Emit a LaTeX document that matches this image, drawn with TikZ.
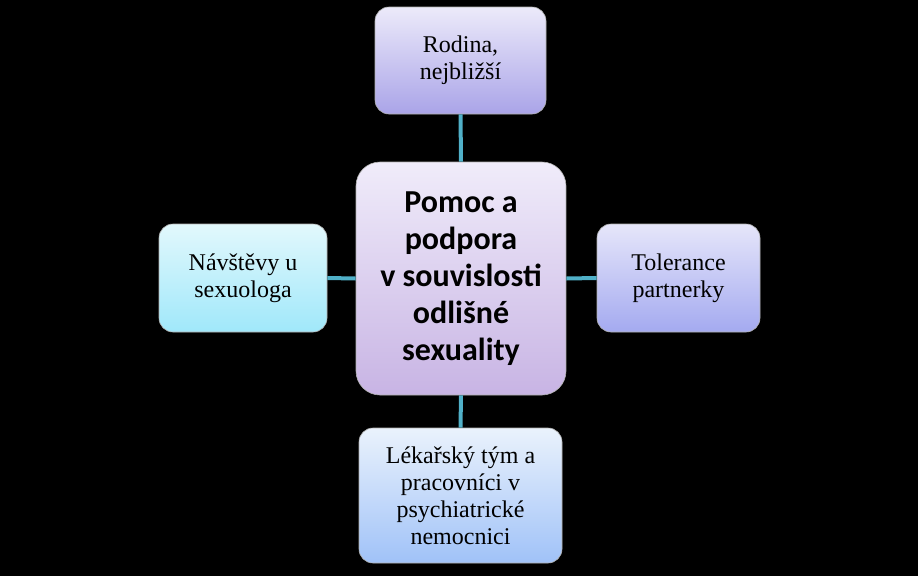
\documentclass[tikz,border=0pt]{standalone}
\usepackage{fontspec}
\setmainfont{Liberation Serif}
\newfontfamily\centerfont{Carlito}
\begin{document}
\begin{tikzpicture}[x=1pt,y=-1pt,
  box/.style={rounded corners=14pt, align=center, inner sep=2pt,
    font=\fontsize{24}{27}\selectfont, text=black, draw=white!70!black, line width=0.6pt},
  link/.style={draw={rgb,255:red,80;green,176;blue,200}, line width=4pt}]
\fill[black] (0,0) rectangle (918,576);
\useasboundingbox (0,0) rectangle (918,576);
\node[box, rounded corners=24pt, minimum width=210pt, minimum height=233pt,
  top color={rgb,255:red,240;green,236;blue,250}, bottom color={rgb,255:red,200;green,180;blue,228},
  font=\centerfont\bfseries\fontsize{32}{37}\selectfont] (c) at (461,278.5)
  {Pomoc a\\podpora\\v souvislosti\\odlišné\\sexuality};
\node[box, minimum width=171pt, minimum height=107pt,
  top color={rgb,255:red,236;green,234;blue,250}, bottom color={rgb,255:red,170;green,164;blue,232}] (t) at (460.5,60.5)
  {Rodina,\\nejbližší};
\node[box, minimum width=168pt, minimum height=108pt,
  top color={rgb,255:red,226;green,248;blue,252}, bottom color={rgb,255:red,160;green,232;blue,250}] (l) at (243,278)
  {Návštěvy u\\sexuologa};
\node[box, minimum width=163pt, minimum height=108pt,
  top color={rgb,255:red,230;green,230;blue,250}, bottom color={rgb,255:red,164;green,170;blue,240}] (r) at (678.5,278)
  {Tolerance\\partnerky};
\node[box, minimum width=203pt, minimum height=135pt,
  top color={rgb,255:red,234;green,242;blue,252}, bottom color={rgb,255:red,160;green,194;blue,248}] (b) at (460.5,495.5)
  {Lékařský tým a\\pracovníci v\\psychiatrické\\nemocnici};
\draw[link] (t.south) -- (c.north);
\draw[link] (c.south) -- (b.north);
\draw[link] (l.east) -- (c.west);
\draw[link] (c.east) -- (r.west);
\end{tikzpicture}
\end{document}
